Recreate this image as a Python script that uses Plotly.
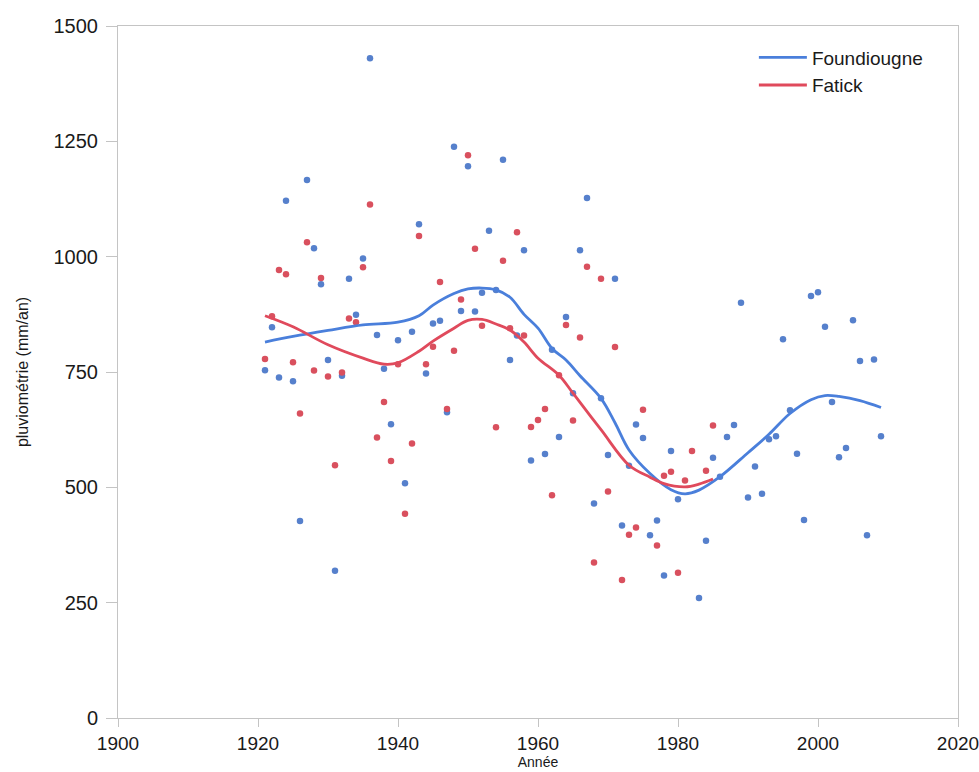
import plotly.graph_objects as go

# ---- data: annual rainfall (mm/an) ----
years_foundiougne = list(range(1921, 2010))
rain_foundiougne = [
    754, 847, 738, 1121, 730, 427, 1166, 1018, 940, 776,   # 1921-1930
    319, 742, 952, 874, 996, 1430, 830, 757, 637, 819,     # 1931-1940
    509, 837, 1070, 747, 855, 861, 663, 1238, 882, 1196,   # 1941-1950
    881, 922, 1056, 928, 1210, 776, 829, 1014, 558, None,  # 1951-1960
    572, 798, 609, 869, 704, 1014, 1127, 465, 693, 570,    # 1961-1970
    952, 417, 547, 636, 607, 396, 428, 309, 579, 474,      # 1971-1980
    None, None, 260, 384, 564, 523, 609, 635, 900, 478,    # 1981-1990
    545, 486, 604, 611, 821, 667, 573, 429, 915, 923,      # 1991-2000
    848, 685, 565, 585, 862, 774, 396, 777, 611,           # 2001-2009
]

years_fatick = list(range(1921, 1986))
rain_fatick = [
    778, 871, 971, 962, 771, 660, 1031, 753, 954, 740,     # 1921-1930
    548, 749, 866, 858, 977, 1113, 608, 685, 557, 767,     # 1931-1940
    443, 595, 1045, 767, 805, 945, 670, 796, 907, 1220,    # 1941-1950
    1017, 850, None, 630, 991, 845, 1053, 829, 631, 646,   # 1951-1960
    670, 483, 743, 852, 645, 825, 978, 337, 952, 491,      # 1961-1970
    804, 299, 397, 413, 668, None, 374, 525, 534, 315,     # 1971-1980
    515, 579, None, 536, 634,                              # 1981-1985
]

# smoothed trend curves
trend_years_foundiougne = [1921, 1925, 1930, 1935, 1940, 1943, 1945, 1948, 1950, 1952,
                           1954, 1956, 1958, 1960, 1962, 1964, 1966, 1969, 1971, 1973,
                           1976, 1979, 1981, 1983, 1986, 1990, 1993, 1996, 1999, 2001,
                           2003, 2006, 2009]
trend_foundiougne = [815, 827, 840, 852, 858, 872, 895, 920, 930, 932,
                     928, 912, 875, 845, 801, 776, 742, 693, 640, 581,
                     530, 495, 486, 494, 523, 575, 615, 660, 690, 699,
                     697, 688, 673]

trend_years_fatick = [1921, 1925, 1930, 1935, 1938, 1940, 1943, 1945, 1948, 1950,
                      1952, 1954, 1956, 1958, 1960, 1963, 1965, 1969, 1973, 1976,
                      1978, 1981, 1983, 1985]
trend_fatick = [872, 848, 809, 780, 767, 770, 795, 817, 845, 862,
                864, 854, 841, 815, 780, 743, 704, 625, 548, 522,
                508, 501, 507, 518]

names = ["Foundiougne", "Fatick"]
x_ticks = [1900, 1920, 1940, 1960, 1980, 2000, 2020]
y_ticks = [0, 250, 500, 750, 1000, 1250, 1500]

BLUE = "#4A7FDB"
RED = "#E04A5C"
BLUE_PT = "#5680CC"
RED_PT = "#D9505E"
FONT = "Liberation Sans, Arial, sans-serif"

fig = go.Figure()

fig.add_trace(go.Scatter(x=years_foundiougne, y=rain_foundiougne, mode="markers",
                         marker=dict(color=BLUE_PT, size=6.5), showlegend=False,
                         name=names[0]))
fig.add_trace(go.Scatter(x=years_fatick, y=rain_fatick, mode="markers",
                         marker=dict(color=RED_PT, size=6.5), showlegend=False,
                         name=names[1]))
fig.add_trace(go.Scatter(x=trend_years_foundiougne, y=trend_foundiougne, mode="lines",
                         line=dict(color=BLUE, width=2.8, shape="spline", smoothing=1.0),
                         name=names[0]))
fig.add_trace(go.Scatter(x=trend_years_fatick, y=trend_fatick, mode="lines",
                         line=dict(color=RED, width=2.8, shape="spline", smoothing=1.0),
                         name=names[1]))

axis_common = dict(
    showgrid=False, zeroline=False, showline=True, linecolor="#c4c4c4", linewidth=1,
    mirror=True, ticks="outside", tickcolor="#c4c4c4", tickwidth=1,
    automargin=False, ticklabeloverflow="allow",
)

fig.update_layout(
    width=979, height=772,
    margin=dict(l=118, r=21, t=26, b=54),
    paper_bgcolor="white", plot_bgcolor="white",
    font=dict(family=FONT, color="#1a1a1a"),
    xaxis=dict(range=[1900, 2020], tickvals=x_ticks, ticktext=[str(v) for v in x_ticks],
               ticklen=8,
               tickfont=dict(family=FONT, size=19, color="#1a1a1a"),
               title=dict(text="Année", font=dict(size=14), standoff=3),
               **axis_common),
    yaxis=dict(range=[0, 1500], tickvals=y_ticks, ticktext=[str(v) for v in y_ticks],
               ticklen=11, ticklabelstandoff=4,
               tickfont=dict(family=FONT, size=20, color="#1a1a1a"),
               title=dict(text="pluviométrie (mm/an)", font=dict(size=16), standoff=20),
               **axis_common),
    legend=dict(x=0.757, y=0.982, xanchor="left", yanchor="top",
                font=dict(size=19, color="#1a1a1a"), bgcolor="rgba(0,0,0,0)",
                itemwidth=48, tracegroupgap=0),
)

fig.write_html("out.html", config={"displayModeBar": False},
               post_script="document.body.style.margin='0px';"
                           "document.documentElement.style.overflow='hidden';")
